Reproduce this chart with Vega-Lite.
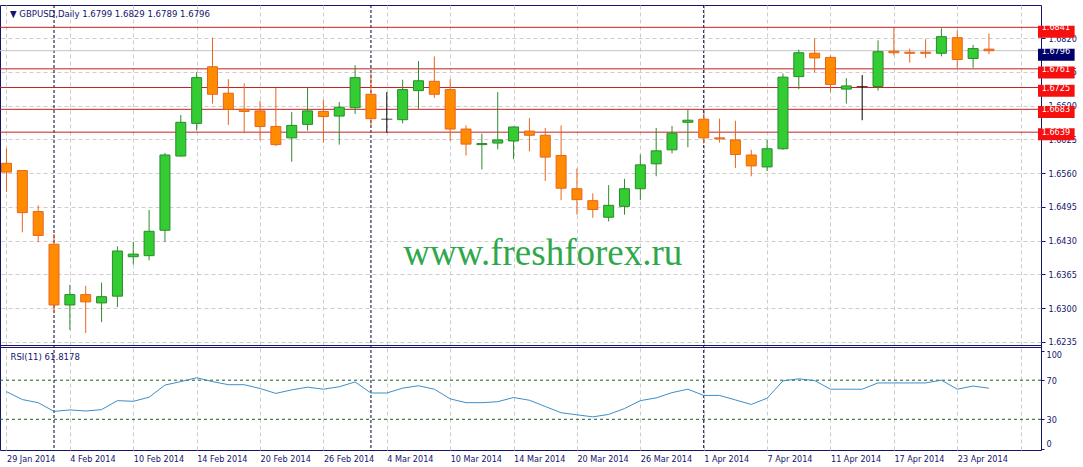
{
  "$schema": "https://vega.github.io/schema/vega-lite/v6.json",
  "autosize": {"type": "none"},
  "padding": {"left": 0, "top": 5, "right": 42, "bottom": 17},
  "background": "white",
  "width": 1041,
  "height": 445,
  "config": {
    "view": {"stroke": "#14146b", "strokeWidth": 1},
    "font": "DejaVu Sans Condensed, DejaVu Sans",
    "axis": {"labelFont": "DejaVu Sans Condensed, DejaVu Sans", "labelColor": "#14146b", "labelFontSize": 9, "tickColor": "#14146b", "gridColor": "#cdcdcd", "gridDash": [4, 3], "gridWidth": 1, "zindex": 0}
  },
  "datasets": {
    "bars": [
      {"i":0,"d":"2014-01-29","o":1.6579,"h":1.6608,"l":1.6524,"c":1.6562,"rsi":58.3},
      {"i":1,"d":"2014-01-30","o":1.6565,"h":1.6566,"l":1.6446,"c":1.6484,"rsi":50.2},
      {"i":2,"d":"2014-01-31","o":1.6486,"h":1.6498,"l":1.6427,"c":1.6440,"rsi":47.0},
      {"i":3,"d":"2014-02-03","o":1.6423,"h":1.6443,"l":1.6290,"c":1.6306,"rsi":38.1},
      {"i":4,"d":"2014-02-04","o":1.6306,"h":1.6345,"l":1.6258,"c":1.6326,"rsi":39.6},
      {"i":5,"d":"2014-02-05","o":1.6326,"h":1.6343,"l":1.6252,"c":1.6312,"rsi":38.5},
      {"i":6,"d":"2014-02-06","o":1.6310,"h":1.6349,"l":1.6273,"c":1.6322,"rsi":39.9},
      {"i":7,"d":"2014-02-07","o":1.6323,"h":1.6419,"l":1.6302,"c":1.6410,"rsi":49.1},
      {"i":8,"d":"2014-02-10","o":1.6399,"h":1.6428,"l":1.6384,"c":1.6404,"rsi":48.4},
      {"i":9,"d":"2014-02-11","o":1.6401,"h":1.6489,"l":1.6392,"c":1.6448,"rsi":52.6},
      {"i":10,"d":"2014-02-12","o":1.6450,"h":1.6599,"l":1.6427,"c":1.6595,"rsi":65.0},
      {"i":11,"d":"2014-02-13","o":1.6593,"h":1.6672,"l":1.6592,"c":1.6658,"rsi":68.6},
      {"i":12,"d":"2014-02-14","o":1.6656,"h":1.6755,"l":1.6642,"c":1.6744,"rsi":72.5},
      {"i":13,"d":"2014-02-17","o":1.6765,"h":1.6821,"l":1.6694,"c":1.6712,"rsi":68.6},
      {"i":14,"d":"2014-02-18","o":1.6714,"h":1.6741,"l":1.6653,"c":1.6683,"rsi":65.4},
      {"i":15,"d":"2014-02-19","o":1.6683,"h":1.6733,"l":1.6637,"c":1.6679,"rsi":65.4},
      {"i":16,"d":"2014-02-20","o":1.6680,"h":1.6699,"l":1.6623,"c":1.6650,"rsi":61.5},
      {"i":17,"d":"2014-02-21","o":1.6650,"h":1.6724,"l":1.6612,"c":1.6615,"rsi":56.5},
      {"i":18,"d":"2014-02-24","o":1.6628,"h":1.6678,"l":1.6582,"c":1.6652,"rsi":60.1},
      {"i":19,"d":"2014-02-25","o":1.6654,"h":1.6724,"l":1.6642,"c":1.6680,"rsi":62.9},
      {"i":20,"d":"2014-02-26","o":1.6679,"h":1.6701,"l":1.6619,"c":1.6669,"rsi":60.8},
      {"i":21,"d":"2014-02-27","o":1.6670,"h":1.6697,"l":1.6615,"c":1.6687,"rsi":63.3},
      {"i":22,"d":"2014-02-28","o":1.6686,"h":1.6768,"l":1.6674,"c":1.6744,"rsi":68.2},
      {"i":23,"d":"2014-03-03","o":1.6712,"h":1.6752,"l":1.6651,"c":1.6665,"rsi":56.9},
      {"i":24,"d":"2014-03-04","o":1.6664,"h":1.6716,"l":1.6638,"c":1.6664,"rsi":56.9},
      {"i":25,"d":"2014-03-05","o":1.6663,"h":1.6740,"l":1.6656,"c":1.6721,"rsi":61.9},
      {"i":26,"d":"2014-03-06","o":1.6719,"h":1.6776,"l":1.6684,"c":1.6738,"rsi":64.3},
      {"i":27,"d":"2014-03-07","o":1.6737,"h":1.6785,"l":1.6705,"c":1.6712,"rsi":60.8},
      {"i":28,"d":"2014-03-10","o":1.6721,"h":1.6741,"l":1.6622,"c":1.6645,"rsi":50.9},
      {"i":29,"d":"2014-03-11","o":1.6645,"h":1.6652,"l":1.6594,"c":1.6616,"rsi":47.0},
      {"i":30,"d":"2014-03-12","o":1.6615,"h":1.6636,"l":1.6567,"c":1.6617,"rsi":47.0},
      {"i":31,"d":"2014-03-13","o":1.6618,"h":1.6716,"l":1.6606,"c":1.6624,"rsi":48.0},
      {"i":32,"d":"2014-03-14","o":1.6622,"h":1.6650,"l":1.6587,"c":1.6649,"rsi":52.3},
      {"i":33,"d":"2014-03-17","o":1.6641,"h":1.6666,"l":1.6602,"c":1.6633,"rsi":49.5},
      {"i":34,"d":"2014-03-18","o":1.6633,"h":1.6647,"l":1.6545,"c":1.6591,"rsi":43.1},
      {"i":35,"d":"2014-03-19","o":1.6594,"h":1.6652,"l":1.6508,"c":1.6531,"rsi":36.7},
      {"i":36,"d":"2014-03-20","o":1.6530,"h":1.6569,"l":1.6480,"c":1.6509,"rsi":34.6},
      {"i":37,"d":"2014-03-21","o":1.6507,"h":1.6521,"l":1.6474,"c":1.6490,"rsi":32.5},
      {"i":38,"d":"2014-03-24","o":1.6475,"h":1.6537,"l":1.6467,"c":1.6498,"rsi":35.0},
      {"i":39,"d":"2014-03-25","o":1.6496,"h":1.6549,"l":1.6480,"c":1.6530,"rsi":41.0},
      {"i":40,"d":"2014-03-26","o":1.6530,"h":1.6596,"l":1.6508,"c":1.6576,"rsi":49.1},
      {"i":41,"d":"2014-03-27","o":1.6578,"h":1.6647,"l":1.6554,"c":1.6603,"rsi":51.9},
      {"i":42,"d":"2014-03-28","o":1.6605,"h":1.6651,"l":1.6598,"c":1.6637,"rsi":57.3},
      {"i":43,"d":"2014-03-31","o":1.6658,"h":1.6683,"l":1.6610,"c":1.6662,"rsi":60.8},
      {"i":44,"d":"2014-04-01","o":1.6664,"h":1.6675,"l":1.6617,"c":1.6628,"rsi":54.4},
      {"i":45,"d":"2014-04-02","o":1.6628,"h":1.6665,"l":1.6619,"c":1.6626,"rsi":54.4},
      {"i":46,"d":"2014-04-03","o":1.6624,"h":1.6661,"l":1.6570,"c":1.6596,"rsi":49.8},
      {"i":47,"d":"2014-04-04","o":1.6595,"h":1.6605,"l":1.6554,"c":1.6574,"rsi":45.2},
      {"i":48,"d":"2014-04-07","o":1.6572,"h":1.6624,"l":1.6564,"c":1.6607,"rsi":51.6},
      {"i":49,"d":"2014-04-08","o":1.6607,"h":1.6752,"l":1.6605,"c":1.6745,"rsi":69.3},
      {"i":50,"d":"2014-04-09","o":1.6746,"h":1.6798,"l":1.6722,"c":1.6792,"rsi":71.4},
      {"i":51,"d":"2014-04-10","o":1.6791,"h":1.6819,"l":1.6754,"c":1.6782,"rsi":69.6},
      {"i":52,"d":"2014-04-11","o":1.6783,"h":1.6787,"l":1.6716,"c":1.6731,"rsi":60.8},
      {"i":53,"d":"2014-04-14","o":1.6722,"h":1.6743,"l":1.6694,"c":1.6728,"rsi":60.8},
      {"i":54,"d":"2014-04-15","o":1.6727,"h":1.6749,"l":1.6662,"c":1.6727,"rsi":60.8},
      {"i":55,"d":"2014-04-16","o":1.6727,"h":1.6816,"l":1.6719,"c":1.6794,"rsi":67.2},
      {"i":56,"d":"2014-04-17","o":1.6795,"h":1.6840,"l":1.6787,"c":1.6792,"rsi":67.2},
      {"i":57,"d":"2014-04-18","o":1.6793,"h":1.6800,"l":1.6773,"c":1.6791,"rsi":67.2},
      {"i":58,"d":"2014-04-21","o":1.6793,"h":1.6818,"l":1.6782,"c":1.6791,"rsi":67.2},
      {"i":59,"d":"2014-04-22","o":1.6791,"h":1.6839,"l":1.6785,"c":1.6823,"rsi":70.0},
      {"i":60,"d":"2014-04-23","o":1.6821,"h":1.6835,"l":1.6762,"c":1.6779,"rsi":60.8},
      {"i":61,"d":"2014-04-24","o":1.6781,"h":1.6807,"l":1.6763,"c":1.6800,"rsi":64.0},
      {"i":62,"d":"2014-04-25","o":1.6799,"h":1.6829,"l":1.6789,"c":1.6796,"rsi":61.8}
    ],
    "levels": [{"p":1.6841},{"p":1.6761},{"p":1.6725},{"p":1.6683},{"p":1.6639}],
    "bid": [{"p":1.6796}],
    "seps": [{"s":3},{"s":23},{"s":44}],
    "rsilev": [{"v":70},{"v":30}]
  },
  "resolve": {"scale": {"y": "independent"}},
  "layer": [
    {
      "data": {"name": "bars"},
      "mark": {"type": "rule", "opacity": 0},
      "encoding": {
        "x": {"field": "i", "type": "quantitative", "scale": {"domain": [-0.09375, 64.96875], "nice": false, "zero": false},
          "axis": {"values": [0,2,4,6,8,10,12,14,16,18,20,22,24,26,28,30,32,34,36,38,40,42,44,46,48,50,52,54,56,58,60,62,64], "ticks": false, "domain": false, "grid": true, "title": null, "zindex": 0, "labelAlign": "left", "labelBaseline": "top", "labelFlush": false, "labelOverlap": false, "labelPadding": 4, "labelDx": -1,
            "labelExpr": "datum.value % 4 == 0 ? ['29 Jan 2014','4 Feb 2014','10 Feb 2014','14 Feb 2014','20 Feb 2014','26 Feb 2014','4 Mar 2014','10 Mar 2014','14 Mar 2014','20 Mar 2014','26 Mar 2014','1 Apr 2014','7 Apr 2014','11 Apr 2014','17 Apr 2014','23 Apr 2014',''][datum.value / 4] : ''"}},
        "y": {"field": "l", "type": "quantitative", "scale": {"domain": [1.60266, 1.6884], "nice": false, "zero": false},
          "axis": {"orient": "right", "values": [1.6235,1.63,1.6365,1.643,1.6495,1.656,1.6625,1.669,1.6755,1.682], "format": ".4f", "domain": false, "tickSize": 4, "labelPadding": 3, "labelOverlap": false, "grid": true, "title": null, "zindex": 0}},
        "y2": {"field": "h"}
      }
    },
    {
      "data": {"name": "bars"},
      "mark": {"type": "line", "opacity": 0},
      "encoding": {
        "x": {"field": "i", "type": "quantitative", "axis": {"title": null}},
        "y": {"field": "rsi", "type": "quantitative", "scale": {"domain": [-1.4, 453.8], "nice": false, "zero": false},
          "axis": {"orient": "right", "values": [0, 30, 70, 100], "domain": false, "tickSize": 3, "labelPadding": 2, "labelOverlap": false, "grid": false, "title": null, "zindex": 0,
            "labelBaseline": {"condition": [{"test": "datum.value == 100", "value": "top"}, {"test": "datum.value == 0", "value": "bottom"}], "value": "middle"}}}
      }
    },
    {
      "data": {"name": "seps"},
      "mark": {"type": "rule", "color": "#000033", "strokeDash": [3, 2], "strokeWidth": 1},
      "encoding": {
        "x": {"field": "s", "type": "quantitative", "axis": {"title": null}}
      }
    },
    {
      "data": {"name": "bid"},
      "mark": {"type": "rule", "color": "#c4c4c4", "strokeWidth": 1},
      "encoding": {
        "y": {"field": "p", "type": "quantitative", "scale": {"domain": [1.60266, 1.6884], "nice": false, "zero": false}, "axis": null}
      }
    },
    {
      "data": {"name": "levels"},
      "mark": {"type": "rule", "color": "#c42020", "strokeWidth": 1},
      "encoding": {
        "y": {"field": "p", "type": "quantitative", "scale": {"domain": [1.60266, 1.6884], "nice": false, "zero": false}, "axis": null}
      }
    },
    {
      "data": {"name": "rsilev"},
      "mark": {"type": "rule", "color": "#1e5a1e", "strokeDash": [3, 3], "strokeWidth": 1},
      "encoding": {
        "y": {"field": "v", "type": "quantitative", "scale": {"domain": [-1.4, 453.8], "nice": false, "zero": false}, "axis": null}
      }
    },
    {
      "data": {"values": [{"edge": "price"}]},
      "mark": {"type": "rule", "color": "#14146b", "strokeWidth": 1},
      "encoding": {
        "y": {"datum": 1.62279, "type": "quantitative", "scale": {"domain": [1.60266, 1.6884], "nice": false, "zero": false}, "axis": null}
      }
    },
    {
      "data": {"values": [{"edge": "rsi"}]},
      "mark": {"type": "rule", "color": "#14146b", "strokeWidth": 1},
      "encoding": {
        "y": {"datum": 103.45, "type": "quantitative", "scale": {"domain": [-1.4, 453.8], "nice": false, "zero": false}, "axis": null}
      }
    },
    {
      "data": {"name": "bars"},
      "mark": {"type": "rule", "strokeWidth": 1, "clip": true},
      "encoding": {
        "x": {"field": "i", "type": "quantitative", "axis": {"title": null}},
        "y": {"field": "l", "type": "quantitative", "scale": {"domain": [1.60266, 1.6884], "nice": false, "zero": false}, "axis": null},
        "y2": {"field": "h"},
        "color": {"condition": [{"test": "datum.o == datum.c", "value": "#000000"}, {"test": "datum.c > datum.o", "value": "#2e8b2e"}], "value": "#e8641e"}
      }
    },
    {
      "data": {"name": "bars"},
      "transform": [{"filter": "datum.o != datum.c"}],
      "mark": {"type": "bar", "size": 10, "strokeWidth": 1, "clip": true},
      "encoding": {
        "x": {"field": "i", "type": "quantitative", "axis": {"title": null}},
        "y": {"field": "o", "type": "quantitative", "scale": {"domain": [1.60266, 1.6884], "nice": false, "zero": false}, "axis": null},
        "y2": {"field": "c"},
        "fill": {"condition": {"test": "datum.c > datum.o", "value": "#33cc33"}, "value": "#ff8c00"},
        "stroke": {"condition": {"test": "datum.c > datum.o", "value": "#2a8a2a"}, "value": "#e8641e"}
      }
    },
    {
      "data": {"name": "bars"},
      "transform": [{"filter": "datum.o == datum.c"}],
      "mark": {"type": "tick", "orient": "horizontal", "size": 11, "thickness": 1, "color": "#000000", "clip": true},
      "encoding": {
        "x": {"field": "i", "type": "quantitative", "axis": {"title": null}},
        "y": {"field": "o", "type": "quantitative", "scale": {"domain": [1.60266, 1.6884], "nice": false, "zero": false}, "axis": null}
      }
    },
    {
      "data": {"name": "bars"},
      "mark": {"type": "line", "color": "#3d8ec9", "strokeWidth": 1, "clip": true},
      "encoding": {
        "x": {"field": "i", "type": "quantitative", "axis": {"title": null}},
        "y": {"field": "rsi", "type": "quantitative", "scale": {"domain": [-1.4, 453.8], "nice": false, "zero": false}, "axis": null}
      }
    },
    {
      "data": {"name": "levels"},
      "mark": {"type": "bar", "size": 12, "color": "#f50f0f"},
      "encoding": {
        "x": {"datum": 65.094, "type": "quantitative", "axis": {"title": null}},
        "x2": {"datum": 67.406},
        "y": {"field": "p", "type": "quantitative", "scale": {"domain": [1.60266, 1.6884], "nice": false, "zero": false}, "axis": null}
      }
    },
    {
      "data": {"name": "bid"},
      "mark": {"type": "bar", "size": 12, "color": "#00006b"},
      "encoding": {
        "x": {"datum": 65.094, "type": "quantitative", "axis": {"title": null}},
        "x2": {"datum": 67.406},
        "y": {"field": "p", "type": "quantitative", "scale": {"domain": [1.60266, 1.6884], "nice": false, "zero": false}, "axis": null}
      }
    },
    {
      "data": {"name": "levels"},
      "mark": {"type": "text", "align": "left", "baseline": "middle", "color": "white", "fontSize": 9, "font": "DejaVu Sans Condensed, DejaVu Sans"},
      "encoding": {
        "x": {"datum": 65.33, "type": "quantitative", "axis": {"title": null}},
        "y": {"field": "p", "type": "quantitative", "scale": {"domain": [1.60266, 1.6884], "nice": false, "zero": false}, "axis": null},
        "text": {"field": "p", "type": "quantitative", "format": ".4f"}
      }
    },
    {
      "data": {"name": "bid"},
      "mark": {"type": "text", "align": "left", "baseline": "middle", "color": "white", "fontSize": 9, "font": "DejaVu Sans Condensed, DejaVu Sans"},
      "encoding": {
        "x": {"datum": 65.33, "type": "quantitative", "axis": {"title": null}},
        "y": {"field": "p", "type": "quantitative", "scale": {"domain": [1.60266, 1.6884], "nice": false, "zero": false}, "axis": null},
        "text": {"field": "p", "type": "quantitative", "format": ".4f"}
      }
    },
    {
      "data": {"values": [{"t": "www.freshforex.ru"}]},
      "mark": {"type": "text", "align": "center", "baseline": "alphabetic", "color": "#2ea84a", "fontSize": 37, "font": "Liberation Serif"},
      "encoding": {
        "x": {"datum": 33.84, "type": "quantitative", "axis": {"title": null}},
        "y": {"datum": 1.6383, "type": "quantitative", "scale": {"domain": [1.60266, 1.6884], "nice": false, "zero": false}, "axis": null},
        "text": {"field": "t"}
      }
    },
    {
      "data": {"values": [{"t": "▼ GBPUSD,Daily  1.6799 1.6829 1.6789 1.6796"}]},
      "mark": {"type": "text", "align": "left", "baseline": "middle", "color": "#14146b", "fontSize": 9.5, "font": "DejaVu Sans Condensed, DejaVu Sans"},
      "encoding": {
        "x": {"datum": 0.22, "type": "quantitative", "axis": {"title": null}},
        "y": {"datum": 1.68667, "type": "quantitative", "scale": {"domain": [1.60266, 1.6884], "nice": false, "zero": false}, "axis": null},
        "text": {"field": "t"}
      }
    },
    {
      "data": {"values": [{"t": "RSI(11) 61.8178"}]},
      "mark": {"type": "text", "align": "left", "baseline": "middle", "color": "#14146b", "fontSize": 9.5, "font": "DejaVu Sans Condensed, DejaVu Sans"},
      "encoding": {
        "x": {"datum": 0.25, "type": "quantitative", "axis": {"title": null}},
        "y": {"datum": 93.7, "type": "quantitative", "scale": {"domain": [-1.4, 453.8], "nice": false, "zero": false}, "axis": null},
        "text": {"field": "t"}
      }
    }
  ]
}
